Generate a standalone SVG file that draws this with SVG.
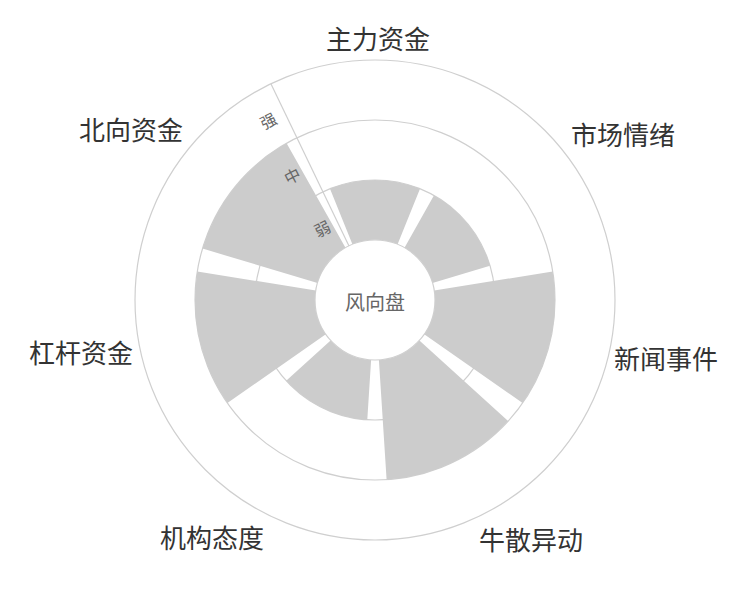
<svg xmlns="http://www.w3.org/2000/svg" width="750" height="600" viewBox="0 0 750 600">
<style>
.grid{fill:none;stroke:#cfcfcf;stroke-width:1.2}
.bar{fill:#cccccc}
.cat{font-family:"Noto Sans CJK SC","Noto Sans",sans-serif;font-size:26px;fill:#333}
.ax{font-family:"Noto Sans CJK SC",sans-serif;font-size:16px;fill:#666;text-anchor:middle;dominant-baseline:central}
</style>
<rect width="750" height="600" fill="#fff"/>
<g id="grid">
<circle class="grid" cx="375" cy="300" r="240"/>
<circle class="grid" cx="375" cy="300" r="180"/>
<circle class="grid" cx="375" cy="300" r="120"/>
</g>
<g id="bars">
<path id="bar0" class="bar" d="M352.5,244.4 L330,188.7 A120,120 0 0 1 420,188.7 L397.5,244.4 A60,60 0 0 0 352.5,244.4 Z"/>
<path id="bar1" class="bar" d="M404.5,247.7 L433.9,195.5 A120,120 0 0 1 490,265.7 L432.5,282.9 A60,60 0 0 0 404.5,247.7 Z"/>
<path id="bar2" class="bar" d="M434.2,290.5 L552.7,271.5 A180,180 0 0 1 522.6,403 L424.2,334.3 A60,60 0 0 0 434.2,290.5 Z"/>
<path id="bar3" class="bar" d="M419.4,340.4 L508.1,421.1 A180,180 0 0 1 386.6,479.6 L378.9,359.9 A60,60 0 0 0 419.4,340.4 Z"/>
<path id="bar4" class="bar" d="M371.1,359.9 L367.3,419.7 A120,120 0 0 1 286.2,380.8 L330.6,340.4 A60,60 0 0 0 371.1,359.9 Z"/>
<path id="bar5" class="bar" d="M325.8,334.3 L227.4,403 A180,180 0 0 1 197.3,271.5 L315.8,290.5 A60,60 0 0 0 325.8,334.3 Z"/>
<path id="bar6" class="bar" d="M317.5,282.9 L202.5,248.6 A180,180 0 0 1 286.6,143.2 L345.5,247.7 A60,60 0 0 0 317.5,282.9 Z"/>
</g>
<g id="center">
<circle cx="375" cy="300" r="60" fill="#fff" stroke="#cfcfcf" stroke-width="1.2"/>
<text x="375" y="301" class="ax" style="font-size:20px">风向盘</text>
</g>
<g id="axis">
<line x1="349" y1="245.9" x2="270.9" y2="83.7" stroke="#cfcfcf" stroke-width="1.2"/>
<text class="ax" x="322" y="228" transform="rotate(-27 322 228)">弱</text>
<text class="ax" x="292" y="175" transform="rotate(-27 292 175)">中</text>
<text class="ax" x="268" y="120" transform="rotate(-27 268 120)">强</text>
</g>
<g id="labels">
<text class="cat" x="378" y="49" text-anchor="middle">主力资金</text>
<text class="cat" x="571" y="145">市场情绪</text>
<text class="cat" x="614" y="369">新闻事件</text>
<text class="cat" x="479" y="550">牛散异动</text>
<text class="cat" x="264" y="548" text-anchor="end">机构态度</text>
<text class="cat" x="133" y="363" text-anchor="end">杠杆资金</text>
<text class="cat" x="183" y="140" text-anchor="end">北向资金</text>
</g>
</svg>
